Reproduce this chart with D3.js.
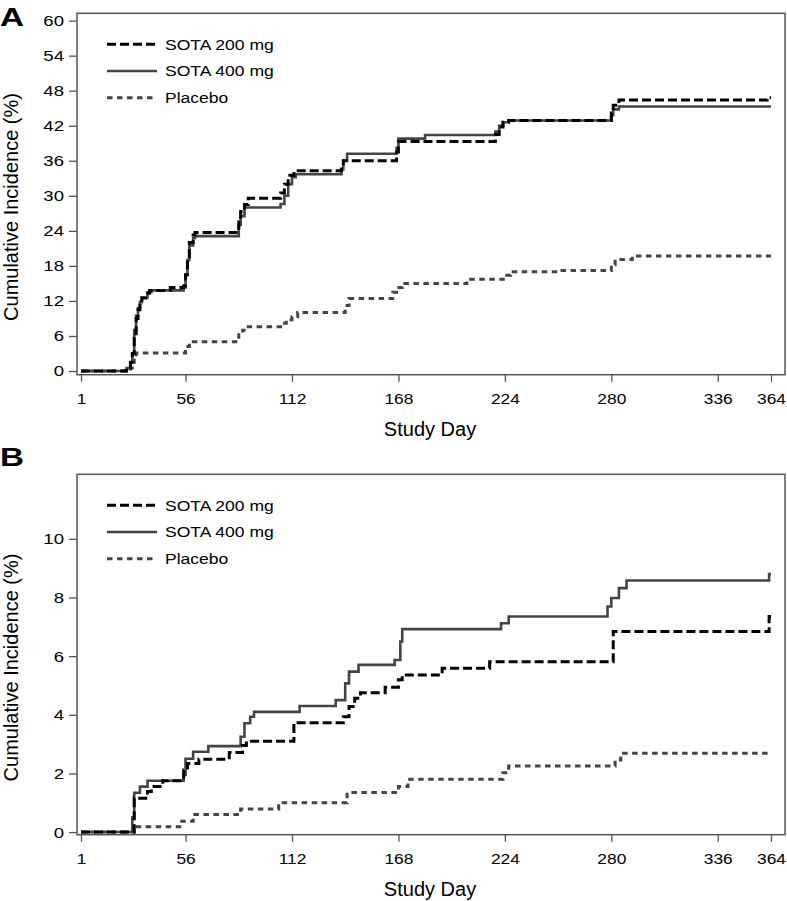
<!DOCTYPE html>
<html>
<head>
<meta charset="utf-8">
<script src="https://cdn.jsdelivr.net/npm/d3@7"></script>
<style>
  html, body { margin: 0; padding: 0; background: #fff; }
  svg { display: block; font-family: "Liberation Sans", Arial, Helvetica, sans-serif; }
</style>
</head>
<body>
<svg id="chart" width="787" height="901"></svg>
<script>
// ---------------- DATA ----------------
const xTicks = [1, 56, 112, 168, 224, 280, 336, 364];
const yTicksA = [0, 6, 12, 18, 24, 30, 36, 42, 48, 54, 60];
const yTicksB = [0, 2, 4, 6, 8, 10];
const seriesNames = ["SOTA 200 mg", "SOTA 400 mg", "Placebo"];
const xTitle = "Study Day";
const yTitle = "Cumulative Incidence (%)";

// Panel A: [study day, cumulative incidence %] step points
const aSota200 = [[1,0],[25,0.5],[27,1.5],[28,3],[29,6],[30,9],[31,10.5],[32,11.5],[33,12.5],[35,13.3],[37,13.8],[48,14.3],[55,14.6],[56,16.5],[57,19],[58,22],[60,23.3],[61,23.7],[84,25.5],[85,27.3],[87,28.5],[89,29.6],[106,30.5],[108,32],[110,33.5],[113,34.3],[138,35.2],[139,36],[167,37.5],[168,39.3],[219,40.5],[221,41.8],[223,42.6],[226,42.9],[280,44.2],[281,45.5],[284,46.4],[362,46.8],[364,46.8]];
const aSota400 = [[1,0],[25,0.5],[27,1.5],[28,3],[29,7],[30,9.5],[31,10.8],[32,11.8],[33,12.6],[36,13.5],[38,13.8],[55,14.3],[56,16.5],[57,19],[58,21.5],[60,22.8],[61,23.1],[84,25],[85,26.5],[87,28.0],[106,28.6],[108,30],[110,32],[112,33.2],[114,33.7],[138,34.5],[139,36],[141,37.2],[167,38.2],[168,39.8],[182,40.4],[219,41],[221,42],[223,42.6],[226,42.9],[280,43.8],[281,44.8],[284,45.3],[364,45.3]];
const aPlacebo = [[1,0],[27,0.5],[28,1.5],[29,2.5],[30,3.1],[56,4.2],[58,5.0],[84,6.2],[86,7.0],[89,7.6],[107,8.2],[109,8.8],[112,9.3],[115,10.0],[140,11.2],[142,12.4],[165,13.5],[167,14.3],[170,15.0],[204,15.4],[206,15.7],[225,16.4],[227,17.0],[253,17.2],[280,18.2],[282,19.1],[291,19.7],[364,19.7]];

// Panel B
const bSota200 = [[1,0],[29,1.15],[36,1.38],[38,1.55],[44,1.75],[55,2.12],[57,2.34],[63,2.48],[79,2.71],[86,2.95],[88,3.1],[113,3.73],[139,3.93],[142,4.28],[145,4.56],[148,4.75],[161,4.94],[168,5.19],[170,5.36],[191,5.59],[216,5.81],[281,6.84],[363,7.35],[364,7.35]];
const bSota400 = [[1,0],[28,0.5],[29,1.34],[32,1.55],[36,1.75],[55,1.95],[56,2.5],[60,2.74],[68,2.93],[85,3.25],[87,3.71],[90,3.93],[92,4.1],[116,4.3],[135,4.5],[140,5.07],[142,5.47],[147,5.7],[166,5.87],[169,6.5],[170,6.92],[222,7.12],[226,7.35],[278,7.69],[280,7.98],[284,8.32],[288,8.58],[363,8.8],[364,8.8]];
const bPlacebo = [[1,0],[29,0.18],[54,0.37],[60,0.6],[85,0.79],[105,1.0],[141,1.35],[168,1.55],[173,1.8],[223,2.02],[226,2.25],[282,2.46],[285,2.69],[364,2.69]];

// ---------------- LAYOUT / STYLE ----------------
const svg = d3.select("#chart");
const left = 77, right = 785;
const x = d3.scaleLinear().domain([1, 364]).range([81, 771]);
const stretch = 1.2; // text in the figure is slightly wide

const styles = [
  { color: "#000", width: 3, dash: "9,4" },
  { color: "#444", width: 2.6, dash: null },
  { color: "#444", width: 3, dash: "5.5,4.5" }
];

const panels = [
  { letter: "A", top: 13.3, bottom: 374.7, yDomain: [-0.63, 61.25], yTicks: yTicksA,
    series: [aSota200, aSota400, aPlacebo], letterY: 25.5 },
  { letter: "B", top: 474.3, bottom: 834.7, yDomain: [-0.09, 12.2], yTicks: yTicksB,
    series: [bSota200, bSota400, bPlacebo], letterY: 465.5 }
];

panels.forEach(p => {
  const y = d3.scaleLinear().domain(p.yDomain).range([p.bottom, p.top]);
  const g = svg.append("g");

  // panel letter
  g.append("text")
    .attr("x", 0).attr("y", p.letterY)
    .attr("font-size", 26).attr("font-weight", "bold")
    .attr("textLength", 24).attr("lengthAdjust", "spacingAndGlyphs")
    .attr("fill", "#000")
    .text(p.letter);

  // y axis
  const yAxis = g.append("g").attr("transform", `translate(${left},0)`)
    .call(d3.axisLeft(y).tickValues(p.yTicks).tickSize(8).tickPadding(5).tickFormat(d3.format("d")));
  yAxis.select(".domain").remove();
  yAxis.selectAll(".tick line").attr("stroke", "#555").attr("stroke-width", 1.3);
  yAxis.selectAll(".tick text").attr("font-size", 15.5).attr("fill", "#000")
    .attr("x", -13 / stretch).attr("transform", `scale(${stretch},1)`);

  // x axis
  const xAxis = g.append("g").attr("transform", `translate(0,${p.bottom})`)
    .call(d3.axisBottom(x).tickValues(xTicks).tickSize(7).tickPadding(11).tickFormat(d3.format("d")));
  xAxis.select(".domain").remove();
  xAxis.selectAll(".tick line").attr("stroke", "#555").attr("stroke-width", 1.3);
  xAxis.selectAll(".tick text").attr("font-size", 15.5).attr("fill", "#000")
    .attr("transform", `scale(1.12,1)`);

  // frame
  g.append("rect")
    .attr("x", left).attr("y", p.top)
    .attr("width", right - left).attr("height", p.bottom - p.top)
    .attr("fill", "none").attr("stroke", "#555").attr("stroke-width", 1.5);

  // titles
  g.append("text")
    .attr("x", 430).attr("y", p.bottom + 61)
    .attr("text-anchor", "middle").attr("font-size", 20).attr("fill", "#000")
    .text(xTitle);
  const cy = (p.top + p.bottom) / 2 + 13;
  g.append("text")
    .attr("transform", `translate(18,${cy}) rotate(-90)`)
    .attr("text-anchor", "middle").attr("font-size", 20).attr("fill", "#000")
    .text(yTitle);

  // lines (placebo first, SOTA 200 on top)
  const line = d3.line().curve(d3.curveStepAfter).x(d => x(d[0])).y(d => y(d[1]));
  [2, 1, 0].forEach(i => {
    g.append("path")
      .datum(p.series[i])
      .attr("d", line)
      .attr("fill", "none")
      .attr("stroke", styles[i].color)
      .attr("stroke-width", styles[i].width)
      .attr("stroke-dasharray", styles[i].dash)
      .attr("stroke-linejoin", "miter");
  });

  // legend
  seriesNames.forEach((name, i) => {
    const ly = p.top + 31 + i * 26.7;
    g.append("line")
      .attr("x1", 107).attr("x2", 157).attr("y1", ly).attr("y2", ly)
      .attr("stroke", styles[i].color).attr("stroke-width", styles[i].width)
      .attr("stroke-dasharray", styles[i].dash);
    g.append("text")
      .attr("transform", `translate(165,${ly + 5.4}) scale(1.17,1)`)
      .attr("font-size", 15).attr("fill", "#000")
      .text(name);
  });
});
</script>
</body>
</html>
